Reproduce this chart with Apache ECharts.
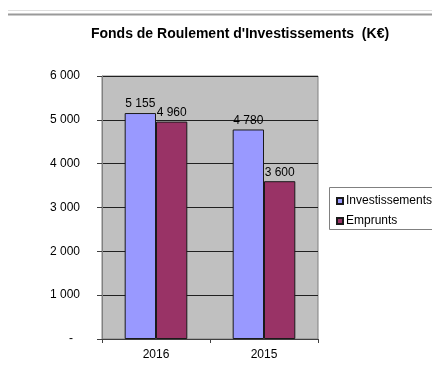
<!DOCTYPE html>
<html>
<head>
<meta charset="utf-8">
<script src="https://cdn.jsdelivr.net/npm/echarts@6/dist/echarts.min.js"></script>
<style>
  html, body { margin: 0; padding: 0; background: #fff; }
  #chart { width: 432px; height: 372px; }
</style>
</head>
<body>
<div id="chart"></div>
<script>
// Fonds de roulement d'investissements, in K€
const categories = ['2016', '2015'];
const investissements = [5155, 4780];
const emprunts = [4960, 3600];
const yTicks = [0, 1000, 2000, 3000, 4000, 5000, 6000];

const FONT = '"Liberation Sans", Arial, sans-serif';

// French-style thousands grouping: 5155 -> "5 155"
function fmt(v) {
  return String(Math.round(v)).replace(/\B(?=(\d{3})+(?!\d))/g, ' ');
}

const chart = echarts.init(document.getElementById('chart'), null, { renderer: 'canvas' });

const barLabel = {
  show: true,
  position: 'top',
  distance: 3,
  color: '#000',
  fontFamily: FONT,
  fontSize: 12,
  formatter: p => fmt(p.value)
};

chart.setOption({
  animation: false,
  backgroundColor: '#fff',
  title: {
    text: "Fonds de Roulement d'Investissements  (K€)",
    left: 235,
    textAlign: 'center',
    top: 22,
    textStyle: { fontFamily: FONT, fontSize: 14, fontWeight: 'bold', color: '#000' }
  },
  grid: {
    left: 102, right: 114, top: 76, bottom: 33,
    show: true,
    backgroundColor: '#c0c0c0',
    borderColor: '#808080',
    borderWidth: 1
  },
  legend: {
    orient: 'vertical',
    left: 331,
    top: 190,
    itemWidth: 6,
    itemHeight: 6,
    itemGap: 8,
    icon: 'rect',
    textStyle: { fontFamily: FONT, fontSize: 12, color: '#000', padding: [0, 0, 0, -2] },
    data: ['Investissements', 'Emprunts']
  },
  xAxis: {
    type: 'category',
    data: categories,
    axisLine: { lineStyle: { color: '#404040', width: 1 } },
    axisTick: { show: true, length: 4, lineStyle: { color: '#404040' } },
    axisLabel: { color: '#000', fontFamily: FONT, fontSize: 12, margin: 10 }
  },
  yAxis: {
    type: 'value',
    min: yTicks[0],
    max: yTicks[yTicks.length - 1],
    interval: 1000,
    axisLine: { show: true, lineStyle: { color: '#808080' } },
    axisTick: { show: true, length: 5, lineStyle: { color: '#404040' } },
    splitLine: { show: true, lineStyle: { color: '#202020', width: 1 } },
    axisLabel: {
      color: '#000',
      fontFamily: FONT,
      fontSize: 12,
      margin: 22,
      formatter: v => v === 0 ? '{z|-}' : fmt(v),
      rich: { z: { fontFamily: FONT, fontSize: 12, color: '#000', padding: [0, 7, 0, 0] } }
    }
  },
  series: [
    {
      name: 'Investissements',
      type: 'bar',
      data: investissements,
      barGap: '0%',
      barCategoryGap: '42%',
      itemStyle: { color: '#9999ff', borderColor: '#1a1a1a', borderWidth: 1 },
      label: barLabel
    },
    {
      name: 'Emprunts',
      type: 'bar',
      data: emprunts,
      itemStyle: { color: '#993366', borderColor: '#1a1a1a', borderWidth: 1 },
      label: barLabel
    }
  ],
  graphic: [
    // window rule lines across the top
    { type: 'line', shape: { x1: 8, y1: 10.5, x2: 432, y2: 10.5 }, style: { stroke: '#dedede', lineWidth: 1 } },
    { type: 'line', shape: { x1: 8, y1: 14.5, x2: 432, y2: 14.5 }, style: { stroke: '#9a9a9a', lineWidth: 2 } },
    // legend frame
    { type: 'rect', shape: { x: 329.5, y: 187.5, width: 110, height: 42 }, style: { fill: null, stroke: '#808080', lineWidth: 1 }, z: 10 }
  ]
});
</script>
</body>
</html>
